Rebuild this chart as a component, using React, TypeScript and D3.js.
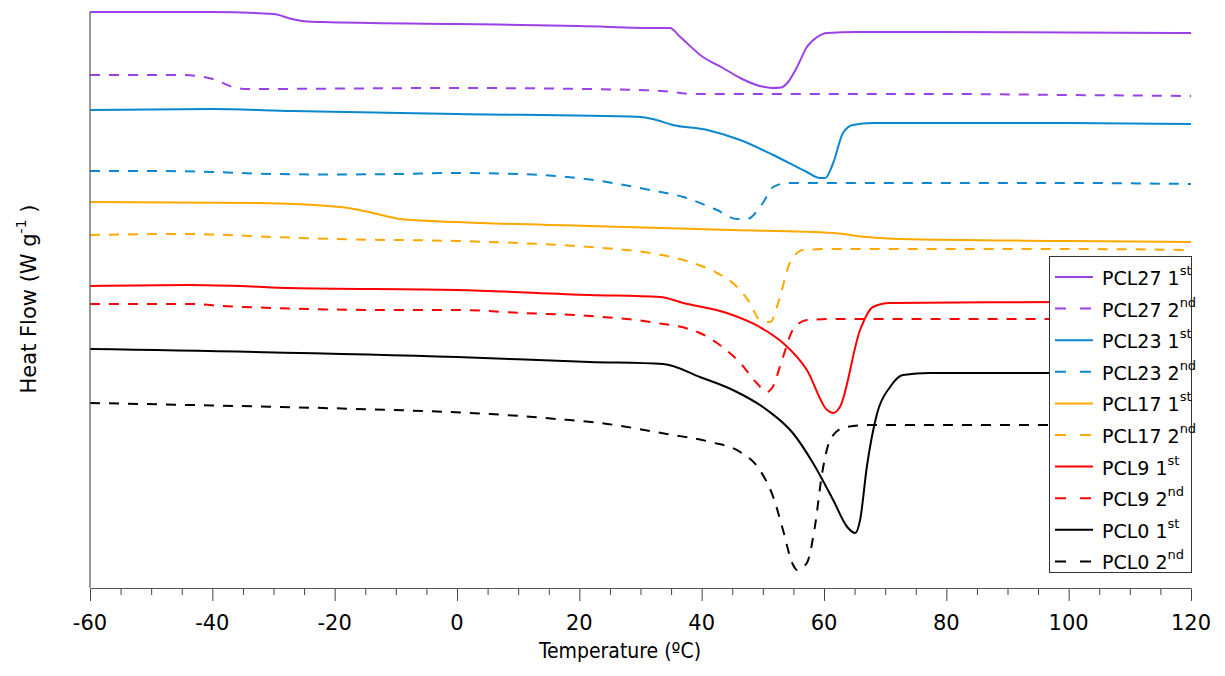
import React, { useEffect, useRef } from 'react';
import * as d3 from 'd3';

// Heat flow in arbitrary units (curves are offset vertically, no y ticks)
const pcl27a_T = [-60, -40, -30, -27, -24.5, -22, 0, 20, 33, 34.8, 36.5, 40.2, 43.5, 46.3, 49.5, 51.5, 53, 54, 55.6, 57.2, 58.9, 60.5, 65.4, 80, 100, 120];
const pcl27a_V = [576, 576, 574, 569, 566.5, 566, 564, 562, 560, 560, 551, 531, 520, 510, 502, 500, 500.5, 505, 521, 541, 551, 555, 556, 556, 555.5, 555];

const pcl27b_T = [-60, -45, -42.5, -39.9, -36.6, -34.3, 0, 29.9, 35.3, 38.6, 46, 80, 100, 120];
const pcl27b_V = [513, 513, 512, 509, 501, 499, 500, 498, 496, 494, 494, 494, 493, 492];

const pcl23a_T = [-60, -40, -27, 0, 30, 32, 35.3, 40.9, 46.3, 51.7, 57.2, 59.3, 60.2, 61.5, 63.1, 64.7, 68, 80, 100, 120];
const pcl23a_V = [478, 479, 477, 474, 471, 469, 463, 458, 448, 433, 416, 410, 410, 425, 455, 463, 465, 465, 465, 464];

const pcl23b_T = [-60, -50, -40, -30, -20, -10, 0, 10, 23.4, 31.6, 37, 42.5, 45.8, 47.4, 50, 51.7, 54, 60, 72.4, 100, 120];
const pcl23b_V = [417, 417, 416, 414, 413.5, 414, 415, 414, 407, 398, 391, 378, 369, 369, 385, 401, 405, 405, 405, 405, 404];

const pcl17a_T = [-60, -32.7, -19.1, -13.7, -9.3, 0, 21.7, 45.1, 61.5, 67, 72.4, 100, 120];
const pcl17a_V = [386, 385, 381, 375, 369, 366, 362, 358, 355, 351, 349, 347, 346];

const pcl17b_T = [-60, -45, -40, -30, -20, 0, 10, 21.7, 31.6, 37, 42.5, 45.1, 47.9, 49.5, 51.2, 52.8, 54.4, 56.6, 61.5, 100, 120];
const pcl17b_V = [353, 354, 353.5, 351, 349, 347, 345, 341, 335, 328, 315, 305, 285, 268, 266, 291, 325, 338, 339, 339, 338];

const pcl9a_T = [-60, -43.7, -35.5, -27.3, 0, 21.7, 33.2, 37, 44.1, 49.5, 53.3, 57.2, 60.5, 61.5, 62.6, 65.9, 68, 70.8, 100, 120];
const pcl9a_V = [302, 303, 302, 300, 298, 293, 291, 285, 275, 261, 245, 218, 178, 175, 181, 258, 281, 285, 286, 287];

const pcl9b_T = [-60, -43.7, -38.3, -30, -10, 0, 10.7, 21.7, 31.6, 39.7, 42.5, 46.3, 49, 50.7, 51.5, 53.3, 54.9, 57.2, 61.5, 100, 120];
const pcl9b_V = [284, 284, 282, 280, 278, 278, 275, 272, 266, 255, 245, 225, 205, 196, 200, 231, 258, 268, 269, 269, 268];

const pcl0a_T = [-60, 0, 21.7, 33.7, 39.7, 45.1, 50.7, 54.9, 58.2, 61.5, 63.8, 65.1, 65.9, 67, 68.7, 70.8, 72.9, 77.3, 100, 120];
const pcl0a_V = [239, 231, 226, 224, 211, 198, 178, 155, 125, 88, 61, 55, 68, 121, 175, 201, 213, 215, 215, 215];

const pcl0b_T = [-60, -43.7, -21.9, -5.6, 5.4, 16.3, 23.4, 34.3, 41.4, 46.3, 49.5, 51.7, 53.3, 54.8, 55.6, 57.2, 58.5, 59.7, 61, 63.1, 67, 100, 120];
const pcl0b_V = [185, 183, 180, 177, 174, 169, 165, 154, 146, 136, 118, 91, 58, 25, 18, 25, 61, 115, 148, 160, 163, 163, 163];

const seriesNames = ['PCL27', 'PCL27', 'PCL23', 'PCL23', 'PCL17', 'PCL17', 'PCL9', 'PCL9', 'PCL0', 'PCL0'];
const runs = ['1', '2', '1', '2', '1', '2', '1', '2', '1', '2'];
const runSup = ['st', 'nd', 'st', 'nd', 'st', 'nd', 'st', 'nd', 'st', 'nd'];
const colors = ['#9b41e9', '#9b41e9', '#0b87cf', '#0b87cf', '#ffa800', '#ffa800', '#ff0000', '#ff0000', '#000000', '#000000'];
const dashed = [false, true, false, true, false, true, false, true, false, true];
const temps = [pcl27a_T, pcl27b_T, pcl23a_T, pcl23b_T, pcl17a_T, pcl17b_T, pcl9a_T, pcl9b_T, pcl0a_T, pcl0b_T];
const values = [pcl27a_V, pcl27b_V, pcl23a_V, pcl23b_V, pcl17a_V, pcl17b_V, pcl9a_V, pcl9b_V, pcl0a_V, pcl0b_V];

const xTicks = [-60, -40, -20, 0, 20, 40, 60, 80, 100, 120];

const App: React.FC = () => {
  const svgRef = useRef<SVGSVGElement>(null);

  const width = 1225;
  const height = 676;
  const left = 90;
  const right = 1191;
  const top = 12;
  const bottom = 588;
  const font = '"DejaVu Sans", Verdana, sans-serif';
  const fontNarrow = '"DejaVu Sans Condensed", "DejaVu Sans", sans-serif';

  useEffect(() => {
    if (!svgRef.current) return;
    const svg = d3.select(svgRef.current);
    svg.selectAll('*').remove();

    const x = d3.scaleLinear().domain([-60, 120]).range([left, right]);
    const y = d3.scaleLinear().domain([0, 576]).range([bottom, top]);

    // curves
    const line = d3.line<[number, number]>()
      .x(d => x(d[0]))
      .y(d => y(d[1]))
      .curve(d3.curveMonotoneX);

    temps.forEach((ts, i) => {
      const pts = ts.map((t, j) => [t, values[i][j]] as [number, number]);
      svg.append('path')
        .attr('d', line(pts))
        .attr('fill', 'none')
        .attr('stroke', colors[i])
        .attr('stroke-width', 2)
        .attr('stroke-dasharray', dashed[i] ? '10,9' : null);
    });

    // bottom axis
    const xAxis = d3.axisBottom(x)
      .tickValues(d3.range(-60, 121, 5))
      .tickSize(0)
      .tickFormat(() => '');
    const ax = svg.append('g').attr('transform', `translate(0,${bottom})`).call(xAxis);
    ax.select('.domain').attr('stroke', '#555').attr('stroke-width', 1.2);
    ax.selectAll('.tick line')
      .attr('y1', 1)
      .attr('y2', (d: any) => (d % 20 === 0 ? 13 : 7))
      .attr('stroke', '#444')
      .attr('stroke-width', 1);

    svg.append('g')
      .selectAll('text')
      .data(xTicks)
      .enter()
      .append('text')
      .attr('x', d => x(d))
      .attr('y', 630)
      .attr('text-anchor', 'middle')
      .style('font-family', font)
      .style('font-size', '21px')
      .text(d => d);

    svg.append('text')
      .attr('x', 620)
      .attr('y', 658)
      .attr('text-anchor', 'middle')
      .style('font-family', fontNarrow)
      .style('font-size', '21px')
      .text('Temperature (ºC)');

    // left axis line
    svg.append('line')
      .attr('x1', left).attr('x2', left)
      .attr('y1', top).attr('y2', bottom)
      .attr('stroke', '#555')
      .attr('stroke-width', 1.2);

    const yl = svg.append('text')
      .attr('transform', 'translate(36,299) rotate(-90)')
      .attr('text-anchor', 'middle')
      .style('font-family', font)
      .style('font-size', '21px');
    yl.append('tspan').text('Heat Flow (W g');
    yl.append('tspan').attr('dy', -10).style('font-size', '14px').text('-1');
    yl.append('tspan').attr('dy', 10).text(' )');

    // legend
    const lg = svg.append('g');
    lg.append('rect')
      .attr('x', 1049.5).attr('y', 256.5)
      .attr('width', 142).attr('height', 316)
      .attr('fill', 'white')
      .attr('stroke', '#333')
      .attr('stroke-width', 1);

    seriesNames.forEach((name, i) => {
      const ly = 277 + i * 31.6;
      lg.append('line')
        .attr('x1', 1055).attr('x2', 1093)
        .attr('y1', ly).attr('y2', ly)
        .attr('stroke', colors[i])
        .attr('stroke-width', 2)
        .attr('stroke-dasharray', dashed[i] ? '11,14' : null);
      const t = lg.append('text')
        .attr('x', 1102)
        .attr('y', ly + 8)
        .style('font-family', font)
        .style('font-size', '19px');
      t.append('tspan').text(`${name} ${runs[i]}`);
      t.append('tspan').attr('dy', -10).style('font-size', '13px').text(runSup[i]);
    });
  }, []);

  return (
    <svg
      ref={svgRef}
      width={width}
      height={height}
      style={{ position: 'absolute', left: 0, top: 0, background: 'white' }}
    />
  );
};

export default App;
